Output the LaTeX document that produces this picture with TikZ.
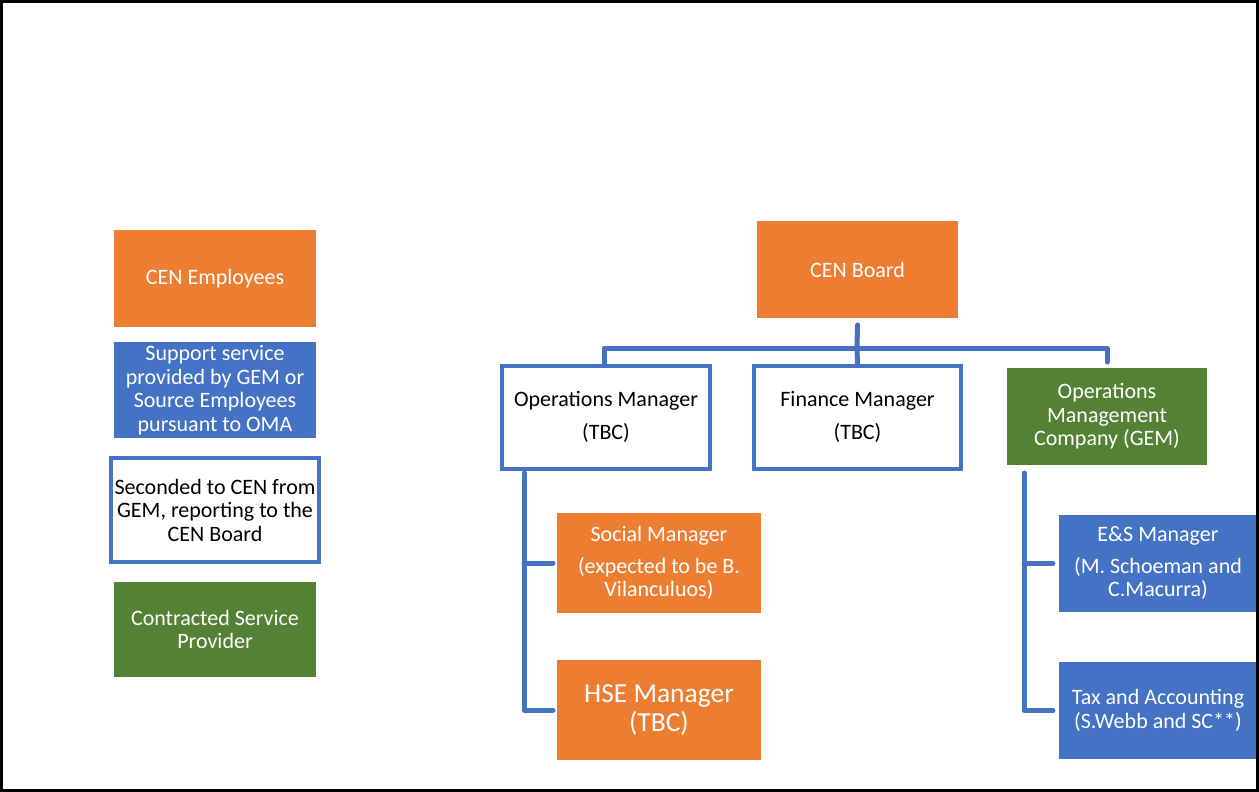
\documentclass[tikz,border=0pt]{standalone}
\usepackage{fontspec}
\setmainfont{Carlito}
\definecolor{corange}{HTML}{ED7D31}
\definecolor{cblue}{HTML}{4472C4}
\definecolor{cgreen}{HTML}{548235}
\tikzset{
  base/.style={inner sep=0pt, outer sep=0pt, align=center, font=\fontsize{22}{23.5}\selectfont},
  filled/.style={base, draw=none, text=white, fill=#1},
  outlined/.style={base, draw=cblue, line width=4pt, fill=white, text=black, outer sep=2pt},
  conn/.style={draw=cblue, line width=5pt, line join=round, line cap=round},
}
\begin{document}
\begin{tikzpicture}[x=1pt,y=-1pt]
\useasboundingbox (0,0) rectangle (1259,792);
% legend
\node[filled=corange, minimum width=202pt, minimum height=97pt] (emp) at (215,278.5) {CEN Employees};
\node[filled=cblue, minimum width=202pt, minimum height=96pt] (sup) at (215,390) {Support service\\provided by GEM or\\Source Employees\\pursuant to OMA};
\node[outlined, minimum width=208pt, minimum height=104pt] (sec) at (215,510) {Seconded to CEN from\\GEM, reporting to the\\CEN Board};
\node[filled=cgreen, minimum width=202pt, minimum height=95pt] (con) at (215,629.5) {Contracted Service\\Provider};
% chart
\node[filled=corange, minimum width=201pt, minimum height=97pt] (board) at (857.5,269.5) {CEN Board};
\node[outlined, minimum width=208pt, minimum height=103pt] (ops) at (606,417) {Operations Manager\\[10pt](TBC)};
\node[outlined, minimum width=207pt, minimum height=103pt] (fin) at (857.5,417) {Finance Manager\\[10pt](TBC)};
\node[filled=cgreen, minimum width=200pt, minimum height=97pt] (gem) at (1107,416.5) {Operations\\Management\\Company (GEM)};
\node[filled=corange, minimum width=204pt, minimum height=100pt] (soc) at (659,563) {Social Manager\\[8pt](expected to be B.\\Vilanculuos)};
\node[filled=corange, minimum width=204pt, minimum height=100pt, font=\fontsize{27.5}{29}\selectfont] (hse) at (659,710) {HSE Manager\\(TBC)};
\node[filled=cblue, minimum width=198pt, minimum height=97pt] (es) at (1158,563.5) {E\&S Manager\\[8pt](M. Schoeman and\\C.Macurra)};
\node[filled=cblue, minimum width=198pt, minimum height=97pt] (tax) at (1158,710.5) {Tax and Accounting\\(S.Webb and SC**)};
% connectors
\coordinate (bj) at (857,348);
\draw[conn] ([yshift=-7pt]board.south) -- (bj);
\draw[conn] ([xshift=-2pt]ops.north) |- (bj) -| ([yshift=6pt]gem.north);
\draw[conn] (bj) -- (fin.north);
\coordinate (lt) at (524,473);
\draw[conn] (lt) |- ([xshift=-4pt]hse.west);
\draw[conn] (lt |- soc.west) -- ([xshift=-4pt]soc.west);
\coordinate (rt) at (1024,473);
\draw[conn] (rt) |- ([xshift=-6pt]tax.west);
\draw[conn] (rt |- es.west) -- ([xshift=-6pt]es.west);
% frame
\draw[line width=3pt] (1.5,1.5) rectangle (1257.5,790.5);
\end{tikzpicture}
\end{document}
